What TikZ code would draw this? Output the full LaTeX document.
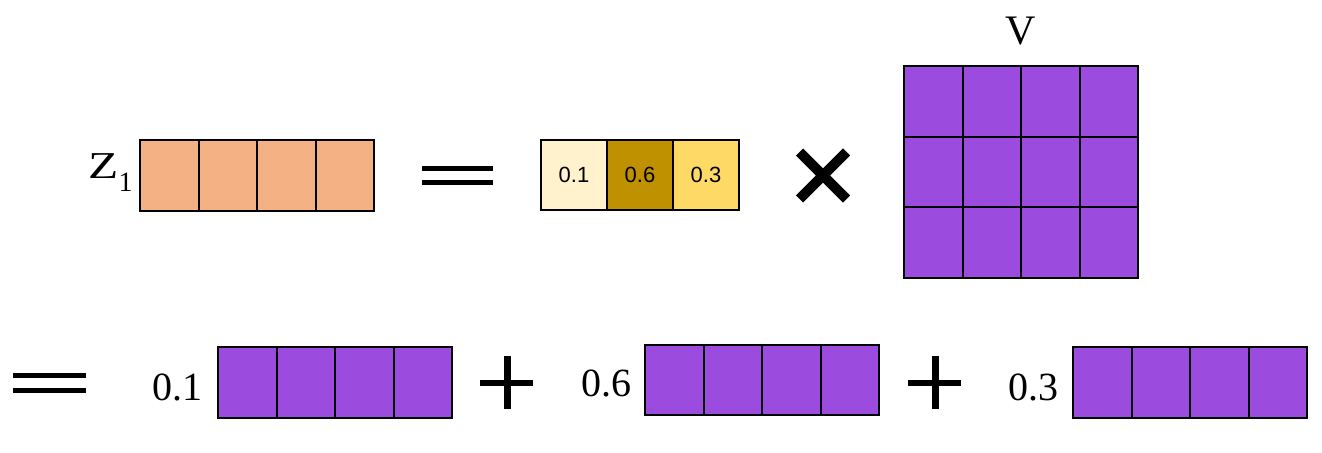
\documentclass[tikz,border=0pt]{standalone}
\usepackage{fontspec}
\setmainfont{Liberation Serif}
\newfontfamily\cellfont{Liberation Sans}
\usepackage{tikz}
\usetikzlibrary{matrix}
\usetikzlibrary{positioning}
\definecolor{zpeach}{HTML}{F4B183}
\definecolor{vpurple}{HTML}{9C4BDF}
\definecolor{wlow}{HTML}{FFF2CC}
\definecolor{wmid}{HTML}{BF9000}
\definecolor{whigh}{HTML}{FFD966}
\tikzset{
grid/.style={
  matrix of nodes,
  inner sep=0pt,
  line width=1pt,
  row sep=-1pt,
  column sep=-1pt,
  nodes={rectangle,draw,minimum width=29.25pt,minimum height=35.5pt,inner sep=0pt},
  nodes in empty cells,
  anchor=north west
},
coef/.style={font=\fontsize{20}{20}\selectfont,anchor=base east,inner sep=0pt},
%sign/.style={fill=black},
}

\begin{document}
\begin{tikzpicture}[x=0.5pt,y=-0.5pt]
\useasboundingbox (0,0) rectangle (1322,452);
% top line
\matrix (z) [grid, nodes={fill=zpeach}] at (138,138)
{
 & & & \\
};
\matrix (w) [grid, nodes={minimum width=33pt,minimum height=35pt,font=\cellfont\fontsize{11}{11}\selectfont}] at (539,138)
{
|[fill=wlow]| 0.1 & |[fill=wmid]| 0.6 & |[fill=whigh]| 0.3 \\
};
\matrix (v) [grid, nodes={fill=vpurple,minimum height=35.33pt}] at (902,64)
{
 & & & \\
 & & & \\
 & & & \\
};
\node[anchor=base east,inner sep=0pt,font=\fontsize{19}{19}\selectfont] (zlab)
  at ([xshift=-2.5pt,yshift=-1.5pt]z.west) {\scalebox{1.3}[1]{Z}\raisebox{-6.5pt}{\fontsize{14}{14}\selectfont 1}};
\node[anchor=base,inner sep=0pt,font=\fontsize{21}{21}\selectfont] (vlab)
  at ([yshift=10pt]v.north) {V};
% bottom line
\matrix (s1) [grid, nodes={fill=vpurple}] at (216,345)
{
 & & & \\
};
\matrix (s2) [grid, nodes={fill=vpurple,minimum height=35pt}] at (643,343)
{
 & & & \\
};
\matrix (s3) [grid, nodes={fill=vpurple}] at (1071,345)
{
 & & & \\
};
\node[coef] (c1) at ([xshift=-6.5pt,yshift=-8.75pt]s1.west) {0.1};
\node[coef] (c2) at ([xshift=-5.5pt,yshift=-8pt]s2.west) {0.6};
\node[coef] (c3) at ([xshift=-6pt,yshift=-8.75pt]s3.west) {0.3};
% the signs
\fill (422,166) rectangle (493,171);
\fill (422,180) rectangle (493,185);
\draw[line width=5pt] (799.5,152) -- (846.5,199) (846.5,152) -- (799.5,199);
\fill (13,373) rectangle (86,378);
\fill (13,388) rectangle (86,393);
\fill (480,380) rectangle (533,386);
\fill (503.5,356) rectangle (510.5,409);
\fill (908,380) rectangle (961,386);
\fill (931.5,356) rectangle (938.5,409);
\end{tikzpicture}
\end{document}
